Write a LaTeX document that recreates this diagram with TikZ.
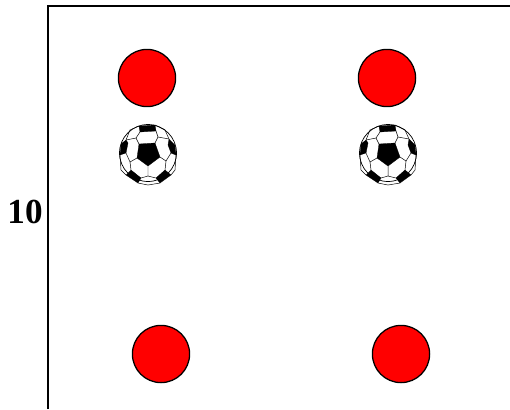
\documentclass[tikz,border=0pt]{standalone}
\usepackage{fontspec}
\setmainfont{Liberation Serif}
\tikzset{
    reddot/.style={circle, draw=black, fill=red, line width=0.9pt, minimum size=1.43cm, inner sep=0pt},
    patch/.style={fill=black, draw=black, line width=0.2pt, line join=round},
    seam/.style={line width=0.35pt},
    pics/soccerball/.style={code={
        \draw[line width=0.5pt, fill=white] (0,0) circle (28.5);
        % patches
        \draw[patch] (-9,9) -- (7,10) -- (12,-4) -- (0,-13) -- (-11,-5) -- cycle;
        \draw[patch] (-9,27) -- (7,28) -- (8,22) -- (-8,21) -- cycle;
        \draw[patch] (-22,13) -- (-27,9) -- (-28,-2) -- (-22,0) -- (-20,10) -- cycle;
        \draw[patch] (21,14) -- (27,8) -- (28,-2) -- (23,0) -- (20,8) -- cycle;
        \draw[patch] (-17,-17) -- (-22,-22) -- (-10,-30) -- (-7,-25) -- cycle;
        \draw[patch] (17,-17) -- (23,-22) -- (12,-30) -- (8,-25) -- cycle;
        % seams
        \draw[seam] (-9,9) -- (-12,15) -- (-8,21) (7,10) -- (10,16) -- (8,22);
        \draw[seam] (-12,15) -- (-22,13) (10,16) -- (21,14);
        \draw[seam] (-11,-5) -- (-18,-9) -- (-22,0) (12,-4) -- (18,-8) -- (23,0);
        \draw[seam] (-18,-9) -- (-17,-17) (18,-8) -- (17,-17);
        \draw[seam] (0,-13) -- (0,-23) (-7,-25) -- (0,-23) -- (8,-25);
        \draw[seam] (-10,-30) -- (0,-32) -- (12,-30);
        \draw[seam] (-9,27) -- (-18,23) -- (-22,13) (7,28) -- (17,23) -- (21,14);
        \draw[seam] (-28,-2) -- (-27,-17) -- (-22,-22) (28,-2) -- (27,-17) -- (23,-22);
    }}
}
\begin{document}
\begin{tikzpicture}[x=0.025cm, y=0.025cm]
    \useasboundingbox (0,0) rectangle (510,-409);

    % frame
    \coordinate (framebottom) at (48,-409);
    \coordinate (framecorner) at (48,-6);
    \coordinate (frameright) at (510,-6);
    \draw[line width=1.2pt] (framebottom) -- (framecorner) -- (frameright);
    \node[font=\bfseries, scale=2.5, inner sep=0pt] (length) at (25,-212) {10};

    % red dots
    \node[reddot] (topleft) at (147,-78) {};
    \node[reddot] (topright) at (387,-78) {};
    \node[reddot] (bottomleft) at (161,-354) {};
    \node[reddot] (bottomright) at (401,-354) {};

    % balls
    \pic at (148,-153) {soccerball};
    \pic at (388,-153) {soccerball};
\end{tikzpicture}
\end{document}
